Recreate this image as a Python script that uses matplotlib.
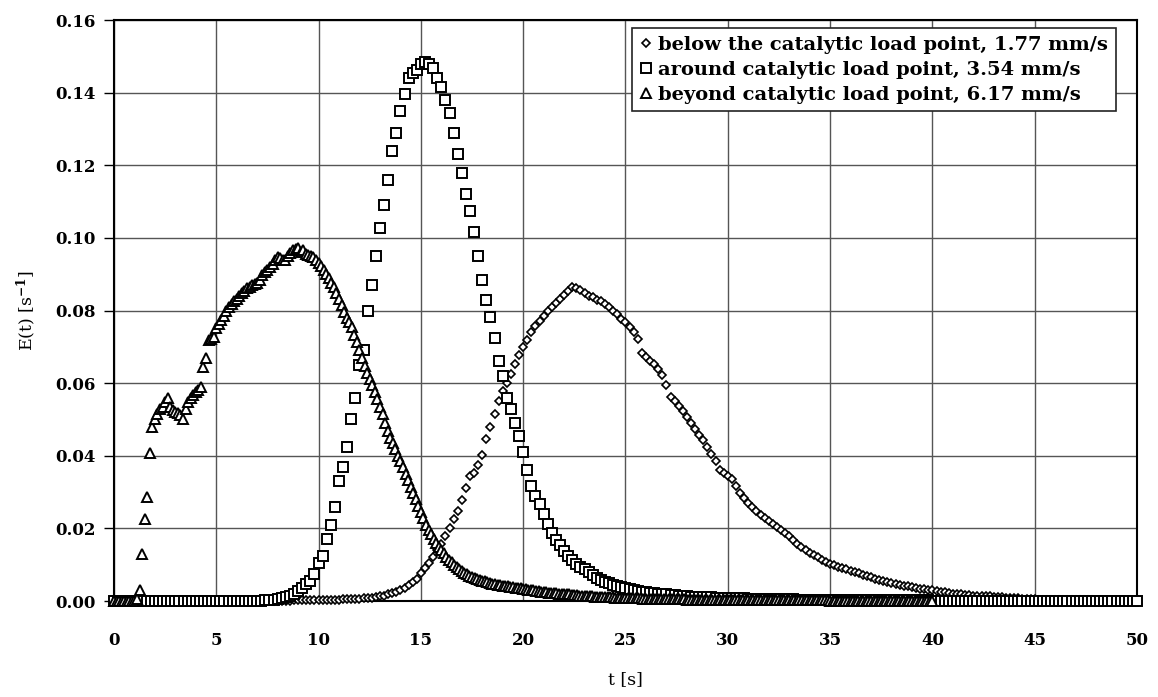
import numpy as np
import matplotlib.pyplot as plt

plt.rcParams['font.family'] = 'DejaVu Serif'
plt.rcParams['font.weight'] = 'bold'
plt.rcParams['mathtext.fontset'] = 'dejavuserif'
plt.rcParams['mathtext.default'] = 'bf'

# sampling times of the three residence time curves [s]
t_below = np.arange(0, 50.001, 0.2)
t_around = np.arange(0, 50.001, 0.2)
t_beyond = np.arange(0, 40.001, 0.125)

# E(t) below the catalytic load point, 1.77 mm/s  (one row = 1 s)
E_below = [
    0, 0, 0, 0, 0,
    0, 0, 0, 0, 0,
    0, 0, 0, 0, 0,
    0, 0, 0, 0, 0,
    0, 0, 0, 0, 0,
    0, 0, 0, 0, 0,
    0, 0, 0, 0, 0,
    0, 0, 0, 0, 0,
    0.0001, 0.0001, 0.0001, 0.0001, 0.0002,
    0.0002, 0.0002, 0.0002, 0.0003, 0.0003,
    0.0003, 0.0003, 0.0004, 0.0004, 0.0004,
    0.0004, 0.0005, 0.0005, 0.0005, 0.0006,
    0.0006, 0.0007, 0.0008, 0.0009, 0.0011,
    0.0013, 0.0015, 0.0018, 0.0022, 0.0026,
    0.0030, 0.0036, 0.0043, 0.0052, 0.0062,
    0.0076, 0.0090, 0.0105, 0.0122, 0.0140,
    0.0158, 0.0178, 0.0200, 0.0225, 0.0248,
    0.0278, 0.0312, 0.0345, 0.0352, 0.0375,
    0.0402, 0.0445, 0.0478, 0.0515, 0.0550,
    0.0578, 0.0600, 0.0625, 0.0652, 0.0678,
    0.0700, 0.0720, 0.0740, 0.0756, 0.0770,
    0.0785, 0.0798, 0.0810, 0.0822, 0.0832,
    0.0842, 0.0855, 0.0866, 0.0862, 0.0856,
    0.0848, 0.0840, 0.0836, 0.0830, 0.0825,
    0.0818, 0.0810, 0.0800, 0.0790, 0.0778,
    0.0768, 0.0755, 0.0740, 0.0722, 0.0682,
    0.0672, 0.0662, 0.0652, 0.0638, 0.0622,
    0.0595, 0.0562, 0.0550, 0.0538, 0.0524,
    0.0508, 0.0490, 0.0473, 0.0458, 0.0443,
    0.0425, 0.0405, 0.0385, 0.0362, 0.0352,
    0.0345, 0.0336, 0.0318, 0.0297, 0.0284,
    0.0270, 0.0258, 0.0248, 0.0238, 0.0229,
    0.0221, 0.0213, 0.0204, 0.0196, 0.0187,
    0.0178, 0.0168, 0.0158, 0.0148, 0.0140,
    0.0133, 0.0127, 0.0120, 0.0114, 0.0107,
    0.0102, 0.0098, 0.0094, 0.0090, 0.0087,
    0.0083, 0.0080, 0.0076, 0.0073, 0.0069,
    0.0065, 0.0062, 0.0059, 0.0056, 0.0053,
    0.0050, 0.0047, 0.0045, 0.0042, 0.0040,
    0.0038, 0.0035, 0.0033, 0.0032, 0.0031,
    0.0030, 0.0028, 0.0026, 0.0024, 0.0022,
    0.0020, 0.0019, 0.0018, 0.0017, 0.0016,
    0.0015, 0.0014, 0.0014, 0.0013, 0.0013,
    0.0012, 0.0011, 0.0010, 0.0009, 0.0008,
    0.0007, 0.0007, 0.0006, 0.0006, 0.0005,
    0.0005, 0.0004, 0.0004, 0.0004, 0.0003,
    0.0003, 0.0003, 0.0003, 0.0002, 0.0002,
    0.0002, 0.0002, 0.0002, 0.0002, 0.0002,
    0.0001, 0.0001, 0.0001, 0.0001, 0.0001,
    0.0001, 0.0001, 0.0001, 0.0001, 0.0001,
    0.0001,
]

# E(t) around the catalytic load point, 3.54 mm/s  (one row = 1 s)
E_around = [
    0, 0, 0, 0, 0,
    0, 0, 0, 0, 0,
    0, 0, 0, 0, 0,
    0, 0, 0, 0, 0,
    0, 0, 0, 0, 0,
    0, 0, 0, 0, 0,
    0, 0, 0, 0, 0,
    0.0001, 0.0001, 0.0002, 0.0002, 0.0003,
    0.0005, 0.0008, 0.0011, 0.0015, 0.0020,
    0.0027, 0.0036, 0.0046, 0.0056, 0.0075,
    0.0105, 0.0125, 0.0170, 0.0208, 0.0258,
    0.0330, 0.0370, 0.0423, 0.0500, 0.0560,
    0.0650, 0.0690, 0.0800, 0.0871, 0.0950,
    0.1026, 0.1090, 0.1160, 0.1240, 0.1290,
    0.1350, 0.1395, 0.1440, 0.1455, 0.1462,
    0.1478, 0.1485, 0.1478, 0.1468, 0.1440,
    0.1415, 0.1380, 0.1345, 0.1290, 0.1232,
    0.1180, 0.1120, 0.1074, 0.1015, 0.0950,
    0.0885, 0.0830, 0.0782, 0.0725, 0.0660,
    0.0620, 0.0560, 0.0530, 0.0490, 0.0455,
    0.0410, 0.0360, 0.0318, 0.0290, 0.0266,
    0.0240, 0.0212, 0.0188, 0.0168, 0.0153,
    0.0138, 0.0123, 0.0112, 0.0103, 0.0095,
    0.0087, 0.0079, 0.0071, 0.0063, 0.0058,
    0.0053, 0.0049, 0.0045, 0.0041, 0.0038,
    0.0035, 0.0032, 0.0030, 0.0028, 0.0026,
    0.0024, 0.0022, 0.0021, 0.0020, 0.0019,
    0.0018, 0.0017, 0.0016, 0.0015, 0.0014,
    0.0013, 0.0012, 0.0012, 0.0011, 0.0011,
    0.0010, 0.0010, 0.0009, 0.0009, 0.0008,
    0.0008, 0.0008, 0.0007, 0.0007, 0.0007,
    0.0006, 0.0006, 0.0006, 0.0006, 0.0006,
    0.0005, 0.0005, 0.0005, 0.0005, 0.0005,
    0.0005, 0.0005, 0.0004, 0.0004, 0.0004,
    0.0004, 0.0004, 0.0004, 0.0004, 0.0004,
    0.0003, 0.0003, 0.0003, 0.0003, 0.0003,
    0.0003, 0.0003, 0.0003, 0.0003, 0.0003,
    0.0002, 0.0002, 0.0002, 0.0002, 0.0002,
    0.0002, 0.0002, 0.0002, 0.0002, 0.0002,
    0.0002, 0.0002, 0.0002, 0.0002, 0.0002,
    0.0001, 0.0001, 0.0001, 0.0001, 0.0001,
    0.0001, 0.0001, 0.0001, 0.0001, 0.0001,
    0.0001, 0.0001, 0.0001, 0.0001, 0.0001,
    0.0001, 0.0001, 0.0001, 0.0001, 0.0001,
    0.0001, 0.0001, 0.0001, 0.0001, 0.0001,
    0, 0, 0, 0, 0,
    0, 0, 0, 0, 0,
    0, 0, 0, 0, 0,
    0, 0, 0, 0, 0,
    0, 0, 0, 0, 0,
    0,
]

# E(t) beyond the catalytic load point, 6.17 mm/s  (one row = 1 s)
E_beyond = [
    0, 0, 0, 0, 0, 0, 0, 0,
    0, 0.0005, 0.0030, 0.0130, 0.0226, 0.0286, 0.0407, 0.0480,
    0.0500, 0.0515, 0.0530, 0.0535, 0.0548, 0.0559, 0.0535, 0.0526,
    0.0520, 0.0518, 0.0512, 0.0500, 0.0530, 0.0549, 0.0558, 0.0568,
    0.0575, 0.0582, 0.0590, 0.0645, 0.0670, 0.0719, 0.0722, 0.0728,
    0.0752, 0.0762, 0.0775, 0.0785, 0.0798, 0.0810, 0.0818, 0.0825,
    0.0833, 0.0840, 0.0848, 0.0855, 0.0861, 0.0865, 0.0870, 0.0873,
    0.0876, 0.0885, 0.0897, 0.0905, 0.0912, 0.0920, 0.0928, 0.0938,
    0.0948, 0.0945, 0.0938, 0.0940, 0.0950, 0.0958, 0.0967, 0.0970,
    0.0971, 0.0960, 0.0968, 0.0955, 0.0953, 0.0950, 0.0948, 0.0938,
    0.0930, 0.0922, 0.0911, 0.0900, 0.0890, 0.0877, 0.0864, 0.0848,
    0.0832, 0.0815, 0.0795, 0.0780, 0.0768, 0.0755, 0.0732, 0.0712,
    0.0690, 0.0670, 0.0648, 0.0628, 0.0612, 0.0595, 0.0575, 0.0555,
    0.0535, 0.0515, 0.0490, 0.0468, 0.0450, 0.0435, 0.0418, 0.0400,
    0.0385, 0.0370, 0.0350, 0.0332, 0.0315, 0.0298, 0.0280, 0.0262,
    0.0245, 0.0228, 0.0210, 0.0196, 0.0184, 0.0172, 0.0160, 0.0150,
    0.0140, 0.0131, 0.0122, 0.0114, 0.0107, 0.0100, 0.0094, 0.0088,
    0.0082, 0.0078, 0.0074, 0.0070, 0.0067, 0.0064, 0.0061, 0.0058,
    0.0056, 0.0054, 0.0052, 0.0050, 0.0048, 0.0047, 0.0045, 0.0044,
    0.0042, 0.0041, 0.0040, 0.0039, 0.0038, 0.0037, 0.0036, 0.0035,
    0.0033, 0.0032, 0.0031, 0.0030, 0.0029, 0.0028, 0.0027, 0.0026,
    0.0025, 0.0024, 0.0023, 0.0022, 0.0022, 0.0021, 0.0020, 0.0020,
    0.0019, 0.0018, 0.0018, 0.0017, 0.0016, 0.0016, 0.0015, 0.0015,
    0.0014, 0.0014, 0.0013, 0.0013, 0.0012, 0.0012, 0.0012, 0.0011,
    0.0011, 0.0010, 0.0010, 0.0010, 0.0009, 0.0009, 0.0009, 0.0008,
    0.0008, 0.0008, 0.0008, 0.0007, 0.0007, 0.0007, 0.0007, 0.0006,
    0.0006, 0.0006, 0.0006, 0.0006, 0.0006, 0.0005, 0.0005, 0.0005,
    0.0005, 0.0005, 0.0005, 0.0005, 0.0005, 0.0005, 0.0005, 0.0005,
    0.0004, 0.0004, 0.0004, 0.0004, 0.0004, 0.0004, 0.0004, 0.0004,
    0.0004, 0.0004, 0.0004, 0.0004, 0.0004, 0.0004, 0.0004, 0.0004,
    0.0003, 0.0003, 0.0003, 0.0003, 0.0003, 0.0003, 0.0003, 0.0003,
    0.0003, 0.0003, 0.0003, 0.0003, 0.0003, 0.0003, 0.0003, 0.0003,
    0.0002, 0.0002, 0.0002, 0.0002, 0.0002, 0.0002, 0.0002, 0.0002,
    0.0002, 0.0002, 0.0002, 0.0002, 0.0002, 0.0002, 0.0002, 0.0002,
    0.0002, 0.0002, 0.0002, 0.0002, 0.0002, 0.0002, 0.0002, 0.0002,
    0.0001, 0.0001, 0.0001, 0.0001, 0.0001, 0.0001, 0.0001, 0.0001,
    0.0001, 0.0001, 0.0001, 0.0001, 0.0001, 0.0001, 0.0001, 0.0001,
    0.0001, 0.0001, 0.0001, 0.0001, 0.0001, 0.0001, 0.0001, 0.0001,
    0.0001, 0.0001, 0.0001, 0.0001, 0.0001, 0.0001, 0.0001, 0.0001,
    0.0001, 0.0001, 0.0001, 0.0001, 0.0001, 0.0001, 0.0001, 0.0001,
    0,
]

labels = ['below the catalytic load point, 1.77 mm/s',
          'around catalytic load point, 3.54 mm/s',
          'beyond catalytic load point, 6.17 mm/s']

fig, ax = plt.subplots(figsize=(11.58, 6.97), dpi=100)
fig.subplots_adjust(left=0.0984, right=0.9819, top=0.9713, bottom=0.1377)

# markers on the zero line are left unclipped so they sit over the axis
ax.plot(t_below, E_below, ls='none', marker='D', ms=4.4, mfc='white',
        mec='black', mew=1.2, label=labels[0], clip_on=False, zorder=3)
ax.plot(t_around, E_around, ls='none', marker='s', ms=7.2, mfc='white',
        mec='black', mew=1.4, label=labels[1], clip_on=False, zorder=3)
ax.plot(t_beyond, E_beyond, ls='none', marker='^', ms=7.8, mfc='white',
        mec='black', mew=1.4, label=labels[2], clip_on=False, zorder=3)

ax.set_xlim(0, 50)
ax.set_ylim(0, 0.16)
ax.set_xticks(np.arange(0, 51, 5))
ax.set_yticks(np.arange(0, 0.161, 0.02))
ax.yaxis.set_major_formatter(plt.FormatStrFormatter('%.2f'))
ax.grid(True, color='#555555', lw=1.0)
ax.set_axisbelow(True)

ax.tick_params(axis='y', direction='out', length=7, width=1, labelsize=12, pad=6)
ax.tick_params(axis='x', length=0, labelsize=12, pad=22)
for side in ['left', 'bottom', 'right', 'top']:
    ax.spines[side].set_linewidth(1.5)
    ax.spines[side].set_color('black')

ax.set_xlabel('t [s]', fontsize=12.5, labelpad=16)
ax.set_ylabel('E(t) [s$^{-1}$]', fontsize=12.5, labelpad=12)

leg = ax.legend(loc='upper right', bbox_to_anchor=(0.9795, 0.986),
                borderaxespad=0, fancybox=False, edgecolor='#222222',
                framealpha=1, fontsize=14, handlelength=0.6,
                handletextpad=0.35, borderpad=0.4, labelspacing=0.35)
leg.get_frame().set_linewidth(1.2)
leg.set_zorder(5)

fig.savefig('out.png', dpi=100)
